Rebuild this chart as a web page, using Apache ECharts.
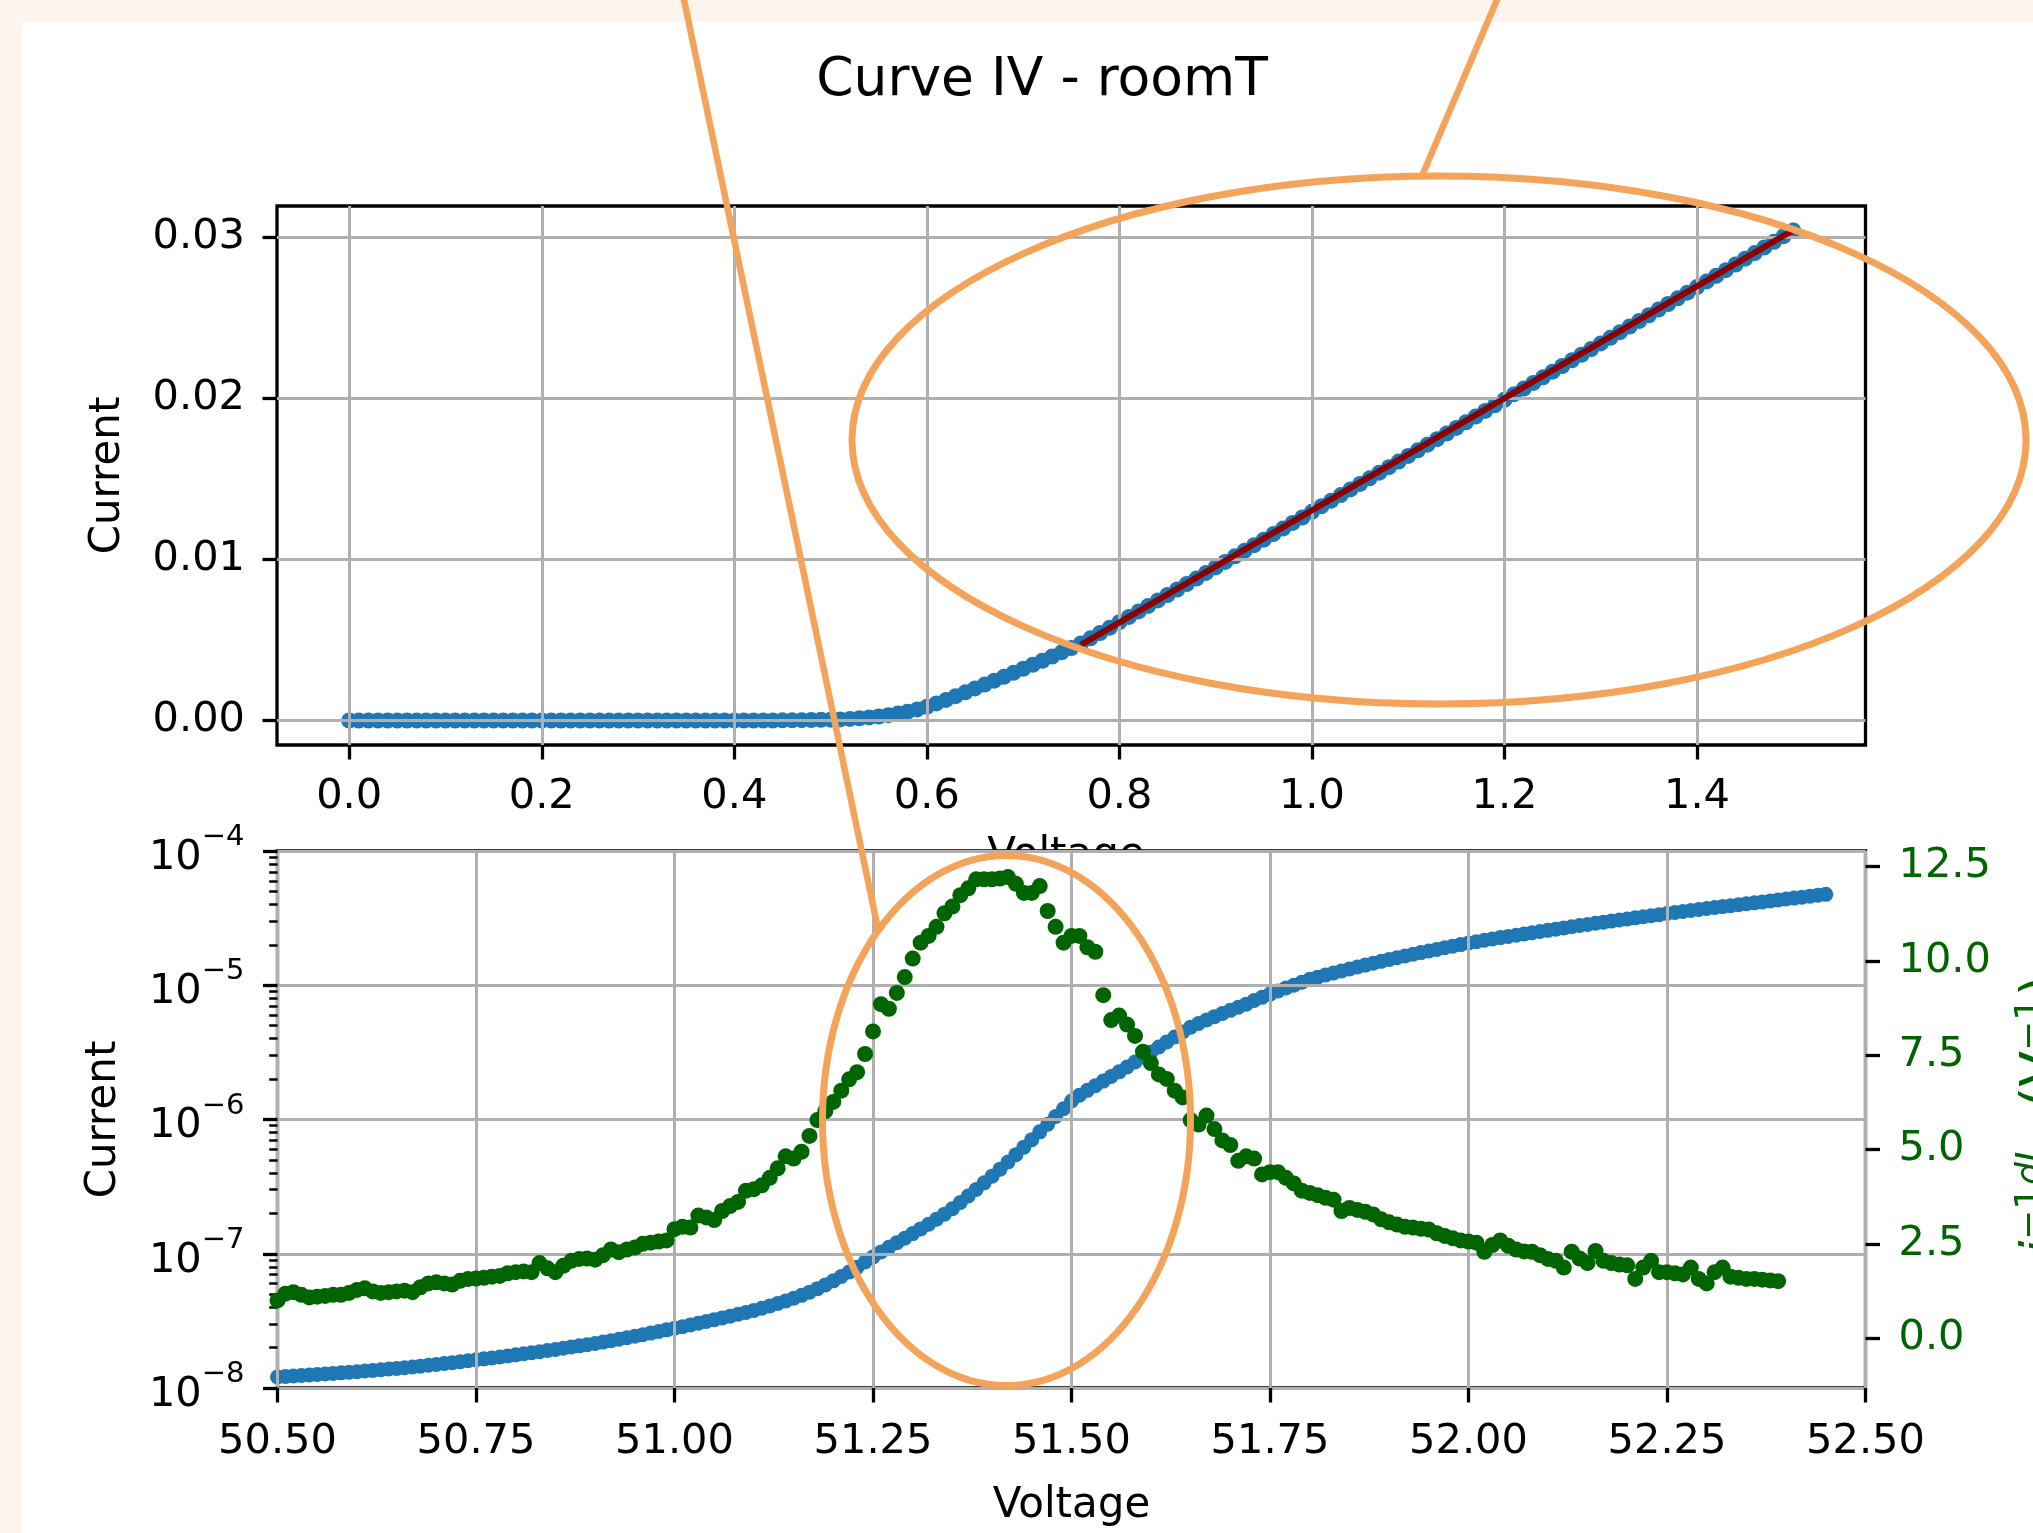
<!DOCTYPE html>
<html><head><meta charset="utf-8">
<script src="https://cdn.jsdelivr.net/npm/echarts@6/dist/echarts.min.js"></script>
<style>html,body{margin:0;padding:0;background:#fef4ee;}#c{width:2033px;height:1533px;}</style>
</head><body><div id="c"></div>
<script>
const FONT = "'DejaVu Sans', sans-serif";

// ---- top panel: linear I-V ----
const topVoltage = [
0.00,0.01,0.02,0.03,0.04,0.05,0.06,0.07,0.08,0.09,
0.10,0.11,0.12,0.13,0.14,0.15,0.16,0.17,0.18,0.19,
0.20,0.21,0.22,0.23,0.24,0.25,0.26,0.27,0.28,0.29,
0.30,0.31,0.32,0.33,0.34,0.35,0.36,0.37,0.38,0.39,
0.40,0.41,0.42,0.43,0.44,0.45,0.46,0.47,0.48,0.49,
0.50,0.51,0.52,0.53,0.54,0.55,0.56,0.57,0.58,0.59,
0.60,0.61,0.62,0.63,0.64,0.65,0.66,0.67,0.68,0.69,
0.70,0.71,0.72,0.73,0.74,0.75,0.76,0.77,0.78,0.79,
0.80,0.81,0.82,0.83,0.84,0.85,0.86,0.87,0.88,0.89,
0.90,0.91,0.92,0.93,0.94,0.95,0.96,0.97,0.98,0.99,
1.00,1.01,1.02,1.03,1.04,1.05,1.06,1.07,1.08,1.09,
1.10,1.11,1.12,1.13,1.14,1.15,1.16,1.17,1.18,1.19,
1.20,1.21,1.22,1.23,1.24,1.25,1.26,1.27,1.28,1.29,
1.30,1.31,1.32,1.33,1.34,1.35,1.36,1.37,1.38,1.39,
1.40,1.41,1.42,1.43,1.44,1.45,1.46,1.47,1.48,1.49,
1.50];
const topCurrent = [
0,0,0,0,0,0,0,0,0,0,
0,0,0,0,0,0,0,0,0,0,
0,0,0,0,0,0,0,0,0,0,
0,0,0,0,0,0,0,0,0,0,
0,0,0,0,0,0.00001,0.00001,0.00002,0.00003,0.00004,
0.00005,0.00007,0.00010,0.00014,0.00019,0.00025,0.00033,0.00043,0.00055,0.00069,
0.00085,0.00106,0.00128,0.00151,0.00175,0.00199,0.00223,0.00247,0.00271,0.00296,
0.00321,0.00346,0.00371,0.00397,0.00423,0.00450,0.00478,0.00510,0.00543,0.00576,
0.00610,0.00643,0.00677,0.00711,0.00745,0.00779,0.00813,0.00847,0.00881,0.00916,
0.00950,0.00984,0.01019,0.01053,0.01088,0.01122,0.01157,0.01191,0.01226,0.01260,
0.01295,0.01330,0.01364,0.01399,0.01434,0.01468,0.01503,0.01538,0.01572,0.01607,
0.01642,0.01677,0.01712,0.01746,0.01781,0.01816,0.01851,0.01886,0.01921,0.01956,
0.01990,0.02025,0.02060,0.02095,0.02130,0.02165,0.02200,0.02235,0.02270,0.02305,
0.02340,0.02375,0.02410,0.02445,0.02480,0.02515,0.02550,0.02585,0.02620,0.02655,
0.02690,0.02725,0.02760,0.02795,0.02830,0.02866,0.02901,0.02936,0.02971,0.03006,
0.03041];
const fitVoltage = [0.76, 1.50];
const fitCurrent = [0.00469, 0.03043];

// ---- bottom panel: log I-V and normalized derivative ----
const bottomVoltage = [
50.50,50.51,50.52,50.53,50.54,50.55,50.56,50.57,50.58,50.59,
50.60,50.61,50.62,50.63,50.64,50.65,50.66,50.67,50.68,50.69,
50.70,50.71,50.72,50.73,50.74,50.75,50.76,50.77,50.78,50.79,
50.80,50.81,50.82,50.83,50.84,50.85,50.86,50.87,50.88,50.89,
50.90,50.91,50.92,50.93,50.94,50.95,50.96,50.97,50.98,50.99,
51.00,51.01,51.02,51.03,51.04,51.05,51.06,51.07,51.08,51.09,
51.10,51.11,51.12,51.13,51.14,51.15,51.16,51.17,51.18,51.19,
51.20,51.21,51.22,51.23,51.24,51.25,51.26,51.27,51.28,51.29,
51.30,51.31,51.32,51.33,51.34,51.35,51.36,51.37,51.38,51.39,
51.40,51.41,51.42,51.43,51.44,51.45,51.46,51.47,51.48,51.49,
51.50,51.51,51.52,51.53,51.54,51.55,51.56,51.57,51.58,51.59,
51.60,51.61,51.62,51.63,51.64,51.65,51.66,51.67,51.68,51.69,
51.70,51.71,51.72,51.73,51.74,51.75,51.76,51.77,51.78,51.79,
51.80,51.81,51.82,51.83,51.84,51.85,51.86,51.87,51.88,51.89,
51.90,51.91,51.92,51.93,51.94,51.95,51.96,51.97,51.98,51.99,
52.00,52.01,52.02,52.03,52.04,52.05,52.06,52.07,52.08,52.09,
52.10,52.11,52.12,52.13,52.14,52.15,52.16,52.17,52.18,52.19,
52.20,52.21,52.22,52.23,52.24,52.25,52.26,52.27,52.28,52.29,
52.30,52.31,52.32,52.33,52.34,52.35,52.36,52.37,52.38,52.39,
52.40,52.41,52.42,52.43,52.44,52.45];
const bottomCurrent = [
1.208e-8,1.219e-8,1.230e-8,1.239e-8,1.250e-8,1.262e-8,1.274e-8,1.285e-8,1.297e-8,1.309e-8,
1.321e-8,1.337e-8,1.352e-8,1.368e-8,1.384e-8,1.400e-8,1.416e-8,1.435e-8,1.455e-8,1.476e-8,
1.496e-8,1.521e-8,1.545e-8,1.570e-8,1.596e-8,1.622e-8,1.648e-8,1.675e-8,1.702e-8,1.734e-8,
1.766e-8,1.799e-8,1.832e-8,1.866e-8,1.901e-8,1.936e-8,1.977e-8,2.018e-8,2.061e-8,2.104e-8,
2.148e-8,2.198e-8,2.249e-8,2.307e-8,2.366e-8,2.427e-8,2.495e-8,2.564e-8,2.636e-8,2.710e-8,
2.786e-8,2.864e-8,2.951e-8,3.041e-8,3.133e-8,3.228e-8,3.327e-8,3.428e-8,3.540e-8,3.656e-8,
3.784e-8,3.926e-8,4.083e-8,4.256e-8,4.446e-8,4.656e-8,4.898e-8,5.176e-8,5.495e-8,5.861e-8,
6.281e-8,6.761e-8,7.311e-8,7.943e-8,8.670e-8,9.462e-8,1.030e-7,1.117e-7,1.208e-7,1.306e-7,
1.413e-7,1.531e-7,1.660e-7,1.807e-7,1.972e-7,2.163e-7,2.410e-7,2.692e-7,3.013e-7,3.373e-7,
3.784e-7,4.266e-7,4.819e-7,5.470e-7,6.223e-7,7.079e-7,8.091e-7,9.226e-7,1.052e-6,1.202e-6,
1.374e-6,1.514e-6,1.648e-6,1.786e-6,1.932e-6,2.089e-6,2.265e-6,2.460e-6,2.679e-6,2.917e-6,
3.177e-6,3.467e-6,3.784e-6,4.121e-6,4.487e-6,4.875e-6,5.188e-6,5.508e-6,5.834e-6,6.166e-6,
6.501e-6,6.855e-6,7.228e-6,7.691e-6,8.128e-6,8.590e-6,9.057e-6,9.528e-6,1.000e-5,1.052e-5,
1.107e-5,1.148e-5,1.191e-5,1.233e-5,1.276e-5,1.321e-5,1.368e-5,1.413e-5,1.459e-5,1.507e-5,
1.556e-5,1.603e-5,1.652e-5,1.702e-5,1.750e-5,1.799e-5,1.849e-5,1.901e-5,1.954e-5,2.009e-5,
2.065e-5,2.113e-5,2.163e-5,2.213e-5,2.265e-5,2.312e-5,2.360e-5,2.410e-5,2.460e-5,2.512e-5,
2.564e-5,2.618e-5,2.673e-5,2.729e-5,2.786e-5,2.838e-5,2.897e-5,2.951e-5,3.006e-5,3.062e-5,
3.119e-5,3.177e-5,3.236e-5,3.296e-5,3.357e-5,3.420e-5,3.483e-5,3.540e-5,3.606e-5,3.664e-5,
3.733e-5,3.793e-5,3.855e-5,3.917e-5,3.981e-5,4.046e-5,4.111e-5,4.178e-5,4.246e-5,4.315e-5,
4.385e-5,4.457e-5,4.529e-5,4.603e-5,4.677e-5,4.753e-5];
// i^-1 dI/dV (V^-1), same voltage grid, first 190 points
const logDerivative = [
1.00,1.18,1.22,1.15,1.08,1.10,1.12,1.15,1.15,1.20,
1.28,1.32,1.24,1.20,1.22,1.24,1.26,1.22,1.35,1.45,
1.48,1.45,1.42,1.52,1.57,1.58,1.60,1.63,1.65,1.72,
1.75,1.77,1.75,1.99,1.85,1.75,1.92,2.05,2.10,2.11,
2.08,2.20,2.35,2.28,2.35,2.40,2.50,2.53,2.56,2.59,
2.89,2.95,2.93,3.25,3.20,3.13,3.37,3.50,3.61,3.91,
3.95,4.05,4.25,4.50,4.82,4.76,4.94,5.36,5.78,6.02,
6.26,6.56,6.86,7.05,7.53,8.13,8.85,8.73,9.15,9.57,
10.06,10.48,10.66,10.90,11.26,11.44,11.74,11.92,12.16,12.16,
12.16,12.18,12.22,12.04,11.80,11.80,11.98,11.32,10.90,10.48,
10.66,10.66,10.36,10.24,9.09,8.43,8.55,8.31,8.01,7.59,
7.29,6.99,6.87,6.56,6.38,5.78,5.66,5.90,5.54,5.24,
5.12,4.70,4.82,4.76,4.34,4.40,4.40,4.25,4.10,3.91,
3.85,3.79,3.72,3.67,3.37,3.45,3.40,3.35,3.28,3.15,
3.07,3.01,2.95,2.93,2.90,2.88,2.78,2.71,2.65,2.59,
2.56,2.53,2.29,2.47,2.59,2.45,2.35,2.30,2.29,2.20,
2.10,2.05,1.87,2.29,2.11,1.99,2.31,2.05,1.99,1.95,
1.93,1.57,1.87,2.05,1.75,1.75,1.72,1.69,1.87,1.57,
1.45,1.75,1.87,1.63,1.60,1.57,1.57,1.55,1.53,1.51];

// ---- tick labels ----
const topXTicks = [0, 0.2, 0.4, 0.6, 0.8, 1.0, 1.2, 1.4];
const topYTicks = [0, 0.01, 0.02, 0.03];
const bottomXTicks = [50.5, 50.75, 51.0, 51.25, 51.5, 51.75, 52.0, 52.25, 52.5];
const rightYTicks = [0, 2.5, 5, 7.5, 10, 12.5];

const minorLogTicks = [];
for (let e = -8; e < -4; e++) for (let m = 2; m <= 9; m++) minorLogTicks.push(e + Math.log10(m));

const BLUE = '#1f77b4', GREEN = '#006400', RED = '#8b0000', ORANGE = '#f4a35a';
const tickLine = {color: '#000', width: 3.3};
const gridLine = {color: '#b0b0b0', width: 3};
const labelBase = {fontSize: 41.5, fontFamily: FONT, color: '#000'};
const nameStyle = {fontSize: 42, fontFamily: FONT, color: '#000'};

const chart = echarts.init(document.getElementById('c'), null, {renderer: 'canvas'});
chart.setOption({
  animation: false,
  backgroundColor: '#fef4ee',
  grid: [
    {left: 277, top: 206, width: 1588.5, height: 539, show: true, borderColor: '#000', borderWidth: 3.3, backgroundColor: 'transparent', outerBoundsMode: 'none', containLabel: false},
    {left: 277.5, top: 851, width: 1588, height: 537, show: true, borderColor: '#000', borderWidth: 3.3, backgroundColor: '#ffffff', outerBoundsMode: 'none', containLabel: false}
  ],
  xAxis: [
    {gridIndex: 0, type: 'value', min: -0.075, max: 1.575, z: 3,
     axisLine: {show: false, onZero: false},
     axisTick: {show: true, customValues: topXTicks, length: 14.5, lineStyle: tickLine},
     axisLabel: Object.assign({customValues: topXTicks, formatter: v => v.toFixed(1), margin: 31}, labelBase),
     splitLine: {show: true, lineStyle: gridLine}},
    {gridIndex: 1, type: 'value', min: 50.5, max: 52.5, z: 3,
     name: 'Voltage', nameLocation: 'middle', nameGap: 97, nameMoveOverlap: false, nameTextStyle: nameStyle,
     axisLine: {show: false, onZero: false},
     axisTick: {show: true, customValues: bottomXTicks, length: 14.5, lineStyle: tickLine},
     axisLabel: Object.assign({customValues: bottomXTicks, formatter: v => v.toFixed(2), margin: 33}, labelBase),
     splitLine: {show: true, lineStyle: gridLine}}
  ],
  yAxis: [
    {gridIndex: 0, type: 'value', min: -0.00152, max: 0.03193, z: 3,
     name: 'Current', nameLocation: 'middle', nameGap: 148, nameMoveOverlap: false, nameTextStyle: nameStyle,
     axisLine: {show: false, onZero: false},
     axisTick: {show: true, customValues: topYTicks, length: 14.5, lineStyle: tickLine},
     axisLabel: Object.assign({customValues: topYTicks, formatter: v => v.toFixed(2), margin: 32}, labelBase),
     splitLine: {show: true, lineStyle: gridLine}},
    {gridIndex: 1, type: 'log', logBase: 10, min: 1e-8, max: 1e-4, z: 3,
     name: 'Current', nameLocation: 'middle', nameGap: 152, nameMoveOverlap: false, nameTextStyle: nameStyle,
     axisLine: {show: false, onZero: false},
     axisTick: {show: true, length: 14.5, lineStyle: tickLine},
     axisLabel: {margin: 33, color: '#000',
       formatter: v => '{b|10}{s|\u2212' + Math.abs(Math.round(Math.log10(v))) + '}',
       rich: {b: {fontSize: 41.5, fontFamily: FONT, color: '#000', lineHeight: 56, verticalAlign: 'bottom'},
              s: {fontSize: 29, fontFamily: FONT, color: '#000', lineHeight: 29, verticalAlign: 'top'}}},
     splitLine: {show: true, lineStyle: gridLine}},
    {gridIndex: 1, type: 'value', position: 'right', min: -1.32, max: 12.91, z: 3,
     axisLine: {show: false, onZero: false},
     axisTick: {show: true, customValues: rightYTicks, length: 14.5, lineStyle: tickLine},
     axisLabel: {customValues: rightYTicks, formatter: v => v.toFixed(1), margin: 33, fontSize: 41.5, fontFamily: FONT, color: GREEN},
     splitLine: {show: false}},
    {gridIndex: 1, type: 'value', position: 'left', min: -8, max: -4, z: 3,
     axisLine: {show: false, onZero: false},
     axisTick: {show: true, customValues: minorLogTicks, length: 8.3, lineStyle: {color: '#000', width: 2.5}},
     axisLabel: {show: false},
     splitLine: {show: false}}
  ],
  series: [
    {name: 'IV', type: 'scatter', xAxisIndex: 0, yAxisIndex: 0, z: 2,
     data: topVoltage.map((v, i) => [v, topCurrent[i]]),
     symbolSize: 16, itemStyle: {color: BLUE, opacity: 1}},
    {name: 'fit', type: 'line', xAxisIndex: 0, yAxisIndex: 0, z: 5,
     data: fitVoltage.map((v, i) => [v, fitCurrent[i]]),
     symbol: 'none', showSymbol: false, lineStyle: {color: RED, width: 6}},
    {name: 'IV log', type: 'scatter', xAxisIndex: 1, yAxisIndex: 1, z: 2,
     data: bottomVoltage.map((v, i) => [v, bottomCurrent[i]]),
     symbolSize: 15, itemStyle: {color: BLUE, opacity: 1}},
    {name: 'dIdV', type: 'scatter', xAxisIndex: 1, yAxisIndex: 2, z: 4,
     data: logDerivative.map((g, i) => [bottomVoltage[i], g]),
     symbolSize: 16, itemStyle: {color: GREEN, opacity: 1}}
  ],
  graphic: [
    {type: 'rect', z: -10, silent: true, shape: {x: 22, y: 22, width: 2011, height: 1511}, style: {fill: '#ffffff'}},
    {type: 'text', z: -5, silent: true, style: {text: 'Voltage', x: 1066, y: 856, align: 'center', verticalAlign: 'middle', fontSize: 42, fontFamily: FONT, fill: '#000'}},
    {type: 'text', z: 10, silent: true, style: {text: 'Curve IV - roomT', x: 1042, y: 81, align: 'center', verticalAlign: 'middle', fontSize: 53.5, fontFamily: FONT, fill: '#000'}},
    {type: 'group', x: 2043, y: 1255, rotation: Math.PI / 2, z: 10, silent: true, children: [
      {type: 'text', style: {text: 'i', x: 0, y: 0, align: 'left', verticalAlign: 'middle', fontSize: 52, fontStyle: 'italic', fontFamily: FONT, fill: GREEN}},
      {type: 'text', style: {text: '\u22121', x: 15, y: -12, align: 'left', verticalAlign: 'middle', fontSize: 36, fontFamily: FONT, fill: GREEN}},
      {type: 'text', style: {text: 'dI', x: 70, y: -11, align: 'left', verticalAlign: 'middle', fontSize: 36, fontStyle: 'italic', fontFamily: FONT, fill: GREEN}},
      {type: 'text', style: {text: 'dV', x: 68, y: 36, align: 'left', verticalAlign: 'middle', fontSize: 36, fontStyle: 'italic', fontFamily: FONT, fill: GREEN}},
      {type: 'text', style: {text: '(V', x: 148, y: 0, align: 'left', verticalAlign: 'middle', fontSize: 52, fontFamily: FONT, fill: GREEN}},
      {type: 'text', style: {text: '\u22121', x: 204, y: -12, align: 'left', verticalAlign: 'middle', fontSize: 36, fontFamily: FONT, fill: GREEN}},
      {type: 'text', style: {text: ')', x: 259, y: 0, align: 'left', verticalAlign: 'middle', fontSize: 52, fontFamily: FONT, fill: GREEN}}
    ]},
    {type: 'ellipse', z: 100, silent: true, shape: {cx: 1439, cy: 440, rx: 587, ry: 264}, style: {fill: 'none', stroke: ORANGE, lineWidth: 7}},
    {type: 'ellipse', z: 100, silent: true, shape: {cx: 1006.5, cy: 1120.5, rx: 184, ry: 265}, style: {fill: 'none', stroke: ORANGE, lineWidth: 7}},
    {type: 'line', z: 100, silent: true, shape: {x1: 683, y1: -5, x2: 878, y2: 929}, style: {stroke: ORANGE, lineWidth: 6.5}},
    {type: 'line', z: 100, silent: true, shape: {x1: 1499, y1: -5, x2: 1422, y2: 176}, style: {stroke: ORANGE, lineWidth: 6.5}}
  ]
});
</script></body></html>
